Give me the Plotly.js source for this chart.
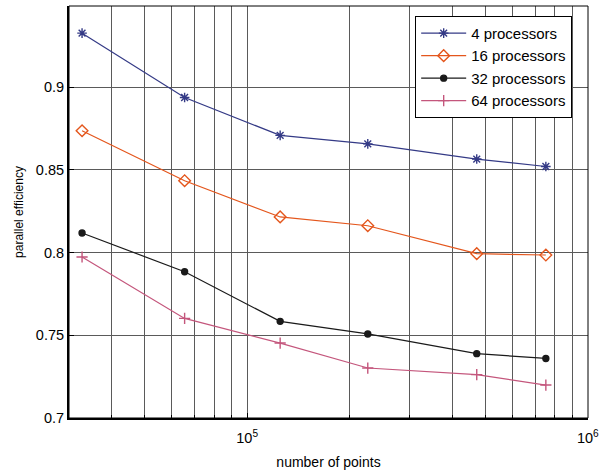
<!DOCTYPE html>
<html>
<head>
<meta charset="utf-8">
<script src="https://cdn.plot.ly/plotly-3.0.1.min.js"></script>
<style>html,body{margin:0;padding:0;background:#fff;}#chart{width:599px;height:474px;}</style>
</head>
<body>
<div id="chart"></div>
<script>
// Data
const points = [32768, 65536, 125000, 226000, 472000, 753000];
const seriesNames = ["4 processors", "16 processors", "32 processors", "64 processors"];
const eff4  = [0.9326, 0.8937, 0.8708, 0.8657, 0.8565, 0.8520];
const eff16 = [0.8736, 0.8434, 0.8215, 0.8162, 0.7993, 0.7985];
const eff32 = [0.8118, 0.7884, 0.7584, 0.7508, 0.7389, 0.7360];
const eff64 = [0.7973, 0.7602, 0.7453, 0.7302, 0.7262, 0.7199];

const xTickVals = [1e5, 1e6];
const xTickText = ["10<sup>5</sup>", "10<sup>6</sup>"];
const xMinorVals = [4e4, 5e4, 6e4, 7e4, 8e4, 9e4, 2e5, 3e5, 4e5, 5e5, 6e5, 7e5, 8e5, 9e5];
const yTickVals = [0.7, 0.75, 0.8, 0.85, 0.9];
const yTickText = ["0.7", "0.75", "0.8", "0.85", "0.9"];

const font = "Liberation Sans, Arial, Helvetica, sans-serif";

const styles = [
  {color: "#343a86", symbol: "asterisk-open", size: 8},
  {color: "#e4561c", symbol: "diamond-open", size: 9},
  {color: "#1a1a1a", symbol: "circle", size: 6},
  {color: "#c4567c", symbol: "cross-thin-open", size: 8}
];
const ys = [eff4, eff16, eff32, eff64];

const traces = ys.map((y, i) => ({
  x: points,
  y: y,
  name: seriesNames[i],
  type: "scatter",
  mode: "lines+markers",
  line: {color: styles[i].color, width: 1.2},
  marker: {
    symbol: styles[i].symbol,
    size: styles[i].size,
    color: styles[i].color,
    line: {color: styles[i].color, width: 1.4}
  }
}));

const layout = {
  width: 599,
  height: 474,
  margin: {l: 69, r: 11, t: 6, b: 56},
  paper_bgcolor: "#ffffff",
  plot_bgcolor: "#ffffff",
  font: {family: font, color: "#000", size: 14},
  showlegend: true,
  legend: {
    x: 0.667, y: 0.976, xanchor: "left", yanchor: "top",
    bgcolor: "#ffffff",
    bordercolor: "#000",
    borderwidth: 1,
    font: {family: font, size: 15, color: "#000"},
    itemwidth: 45,
    tracegroupgap: 0
  },
  xaxis: {
    type: "log",
    range: [Math.log10(3e4), 6.0005],
    tickmode: "array",
    tickvals: xTickVals,
    ticktext: xTickText,
    ticks: "inside",
    ticklen: 5,
    tickcolor: "#000",
    ticklabelstandoff: 6,
    ticklabeloverflow: "allow",
    showgrid: true,
    gridcolor: "#5a5a5a",
    gridwidth: 1,
    minor: {
      tickmode: "array",
      tickvals: xMinorVals,
      ticks: "inside",
      ticklen: 3,
      tickcolor: "#000",
      showgrid: true,
      gridcolor: "#5a5a5a",
      gridwidth: 1
    },
    showline: true,
    linecolor: "#000",
    linewidth: 2,
    zeroline: false,
    tickfont: {family: font, size: 14.5, color: "#000"},
    title: {text: "number of points", font: {family: font, size: 14, color: "#000"}, standoff: 12}
  },
  yaxis: {
    range: [0.7, 0.949],
    tickmode: "array",
    tickvals: yTickVals,
    ticktext: yTickText,
    ticks: "inside",
    ticklen: 5,
    tickcolor: "#000",
    showgrid: true,
    gridcolor: "#5a5a5a",
    gridwidth: 1,
    showline: true,
    linecolor: "#000",
    linewidth: 2,
    zeroline: false,
    tickfont: {family: font, size: 14.5, color: "#000"},
    title: {text: "parallel efficiency", font: {family: font, size: 12, color: "#000"}, standoff: 10}
  },
  shapes: [{
    type: "rect", xref: "paper", yref: "paper", x0: 0, x1: 1, y0: 0, y1: 1,
    line: {color: "#000", width: 1}, fillcolor: "rgba(0,0,0,0)", layer: "above"
  }]
};

Plotly.newPlot("chart", traces, layout, {displayModeBar: false, staticPlot: true});
</script>
</body>
</html>
